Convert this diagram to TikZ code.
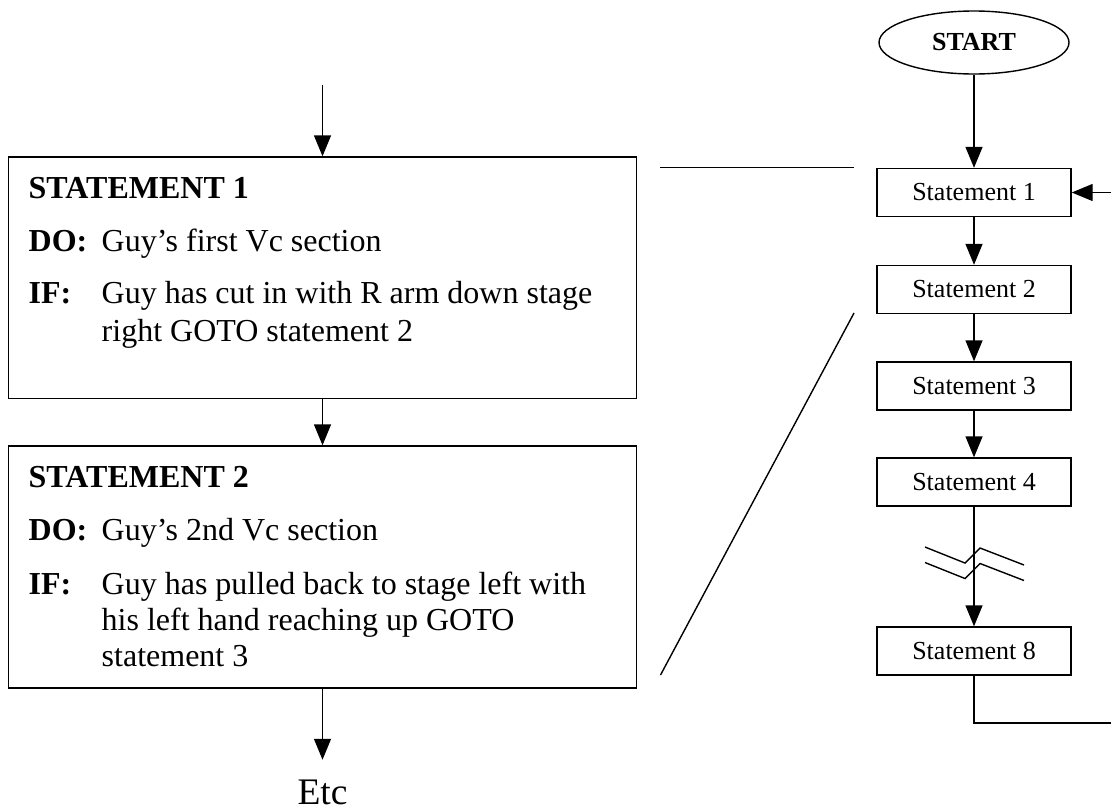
\documentclass[tikz,border=0pt]{standalone}
\usepackage{fontspec}
\setmainfont{Liberation Serif}
\usetikzlibrary{arrows.meta,shapes.geometric}

\begin{document}
\begin{tikzpicture}[x=0.5pt,y=-0.5pt,line width=0.7pt,
arr/.style={-{Triangle[length=10.5pt,width=8.5pt]}},
bigbox/.style={draw,rectangle,minimum width=314pt,inner sep=0pt},
stbox/.style={draw,rectangle,minimum width=97pt,minimum height=24pt,inner sep=0pt,font=\fontsize{13}{15}\selectfont},
txt/.style={inner sep=0pt,anchor=base west,font=\fontsize{16}{19}\selectfont}
]
\useasboundingbox (0,0) rectangle (1111,809);

% left: statements written out
\coordinate (in1) at (322.5,85);
\node[bigbox,minimum height=120.75pt] (s1) at (322.5,277.75) {};
\node[bigbox,minimum height=121pt] (s2) at (322.5,567) {};
\node[inner sep=0pt,anchor=base,font=\fontsize{18.75}{22}\selectfont] (etc) at (322.5,804) {Etc};

\node[txt] (s1head) at (28,198.5) {\textbf{STATEMENT 1}};
\node[txt] (s1do) at (28,251) {\textbf{DO:}};
\node[txt] (s1dotext) at (101,251) {Guy’s first Vc section};
\node[txt] (s1if) at (28,303) {\textbf{IF:}};
\node[txt] (s1ifa) at (101,303) {Guy has cut in with R arm down stage};
\node[txt] (s1ifb) at (101,341) {right GOTO statement 2};

\node[txt] (s2head) at (28,487.5) {\textbf{STATEMENT 2}};
\node[txt] (s2do) at (28,540) {\textbf{DO:}};
\node[txt] (s2dotext) at (101,540) {Guy’s 2nd Vc section};
\node[txt] (s2if) at (28,594) {\textbf{IF:}};
\node[txt] (s2ifa) at (101,594) {Guy has pulled back to stage left with};
\node[txt] (s2ifb) at (101,630) {his left hand reaching up GOTO};
\node[txt] (s2ifc) at (101,666.5) {statement 3};

\draw[arr] (in1) -- (s1.north);
\draw[arr] (s1.south) -- (s2.north);
\draw[arr] (s2.south) -- ([yshift=9.5pt]etc.north);

% right: the flow chart
\node[draw,ellipse,minimum width=95pt,minimum height=31.5pt,inner sep=0pt,font=\fontsize{13}{15}\selectfont] (start) at (974,42.5) {\textbf{START}};
\foreach \n/\y in {1/192.5,2/289.5,3/386,4/482,8/651}
{
\node[stbox] (st\n) at (974,\y) {Statement \n};
}
\draw[arr] (start) -- (st1);
\draw[arr] (st1) -- (st2);
\draw[arr] (st2) -- (st3);
\draw[arr] (st3) -- (st4);
\draw[arr] (st4) -- (st8);
\coordinate (back) at (1111,723);
\coordinate (backin) at (1111,192.5);
\draw (st8.south) |- (back);
\draw[arr] (backin) -- (st1.east);

% break in the line
\draw (925,547) -- (965,563) -- (980,548) -- (1024,565);
\draw (925,562.5) -- (965,578.5) -- (980,563.5) -- (1024,580.5);

% zoom lines
\draw (660,167.5) -- (854,167.5);
\draw (854,313) -- (660.5,675);
\end{tikzpicture}
\end{document}
